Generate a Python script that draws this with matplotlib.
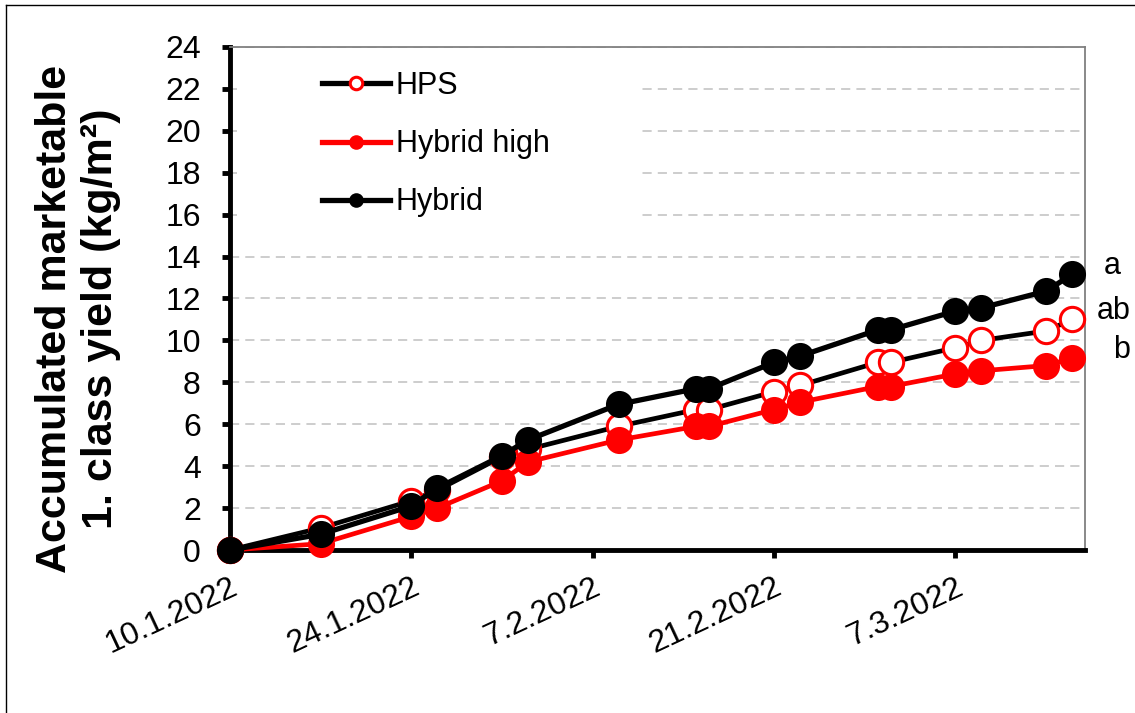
import datetime as dt
import matplotlib
matplotlib.use('Agg')
import matplotlib.pyplot as plt
from matplotlib.patches import Rectangle
from matplotlib.lines import Line2D

plt.rcParams['font.family'] = ['Liberation Sans', 'DejaVu Sans']

# Harvest dates and accumulated yield (kg/m2)
harvest_dates = ['10.1.2022', '17.1.2022', '24.1.2022', '26.1.2022', '31.1.2022',
                 '2.2.2022', '9.2.2022', '15.2.2022', '16.2.2022', '21.2.2022',
                 '23.2.2022', '1.3.2022', '2.3.2022', '7.3.2022', '9.3.2022',
                 '14.3.2022', '16.3.2022']
hps = [0, 1.05, 2.35, 2.85, 4.45, 4.8, 5.9, 6.7, 6.7, 7.55, 7.85, 8.95, 8.95,
       9.65, 10.0, 10.45, 11.0]
hybrid_high = [0, 0.3, 1.6, 2.0, 3.3, 4.2, 5.25, 5.9, 5.9, 6.7, 7.05, 7.8, 7.8,
               8.4, 8.55, 8.8, 9.15]
hybrid = [0, 0.75, 2.1, 2.95, 4.5, 5.25, 6.95, 7.7, 7.7, 8.95, 9.25, 10.5, 10.5,
          11.4, 11.55, 12.35, 13.15]
sig_letters = ['ab', 'b', 'a']  # HPS, Hybrid high, Hybrid

x_ticks = ['10.1.2022', '24.1.2022', '7.2.2022', '21.2.2022', '7.3.2022']
x_end = '17.3.2022'
y_ticks = list(range(0, 25, 2))


def to_date(s):
    return dt.datetime.strptime(s, '%d.%m.%Y')


dates = [to_date(d) for d in harvest_dates]
tick_dates = [to_date(d) for d in x_ticks]

fig = plt.figure(figsize=(11.35, 7.13), dpi=100)
ax = fig.add_axes([0.2026, 0.2286, 0.7533, 0.7055])

# series: HPS (black line, open red circles), Hybrid high (red), Hybrid (black)
l1, = ax.plot(dates, hps, color='black', lw=3.4, marker='o', ms=17.5, mfc='white',
              mec='red', mew=2.2, label='HPS', zorder=3, clip_on=False)
l2, = ax.plot(dates, hybrid_high, color='red', lw=3.4, marker='o', ms=18, mfc='red',
              mec='red', mew=1.5, label='Hybrid high', zorder=4, clip_on=False)
l3, = ax.plot(dates, hybrid, color='black', lw=3.8, marker='o', ms=18, mfc='black',
              mec='black', mew=1.5, label='Hybrid', zorder=5, clip_on=False)

# significance letters next to the last points
letter_dx = [30, 36, 29]
for line, txt, dx in zip([l1, l2, l3], sig_letters, letter_dx):
    ax.annotate(txt, xy=(line.get_xdata()[-1], line.get_ydata()[-1]),
                xytext=(dx, 0), textcoords='offset points', ha='center',
                va='baseline', fontsize=22, annotation_clip=False)

ax.set_xlim(dates[0], to_date(x_end))
ax.set_ylim(0, 24)
ax.set_xticks(tick_dates)
ax.set_xticklabels(x_ticks)
ax.set_yticks(y_ticks)
plt.setp(ax.get_xticklabels(), rotation=25, ha='right', rotation_mode='anchor')

ax.tick_params(axis='both', direction='out', length=6, width=3.5, labelsize=23)
ax.tick_params(axis='x', pad=10)
ax.tick_params(axis='y', pad=15)

ax.set_axisbelow(True)
ax.yaxis.grid(True, color='#c0c0c0', lw=1.1, linestyle=(0, (6, 4)))

for side in ['left', 'bottom']:
    ax.spines[side].set_linewidth(3.5)
    ax.spines[side].set_color('black')
for side in ['top', 'right']:
    ax.spines[side].set_linewidth(1.3)
    ax.spines[side].set_color('#808080')

# white area behind the legend (hides the grid there)
ax.add_patch(Rectangle((0.008, 0.632), 0.472, 0.362, transform=ax.transAxes,
                       facecolor='white', edgecolor='none', zorder=1))

leg = ax.legend(loc='upper left', bbox_to_anchor=(0.108, 0.952), frameon=False,
                fontsize=22, handlelength=2.2, handletextpad=0.2,
                labelspacing=0.92, borderpad=0, borderaxespad=0)
for h in leg.get_lines():
    h.set_markersize(9)
    h.set_linewidth(3.8)

fig.text(0.069, 0.553, 'Accumulated marketable\n1. class yield (kg/m²)',
         rotation=90, fontsize=31, fontweight='bold', ha='center', va='center',
         linespacing=1.2, multialignment='center')

# thin frame round the picture (top and left edges show in the crop)
fig.add_artist(Line2D([6 / 1135, 1], [1 - 5 / 713, 1 - 5 / 713], color='black', lw=1))
fig.add_artist(Line2D([6 / 1135, 6 / 1135], [0, 1 - 5 / 713], color='black', lw=1))

fig.savefig('out.png', dpi=100)
